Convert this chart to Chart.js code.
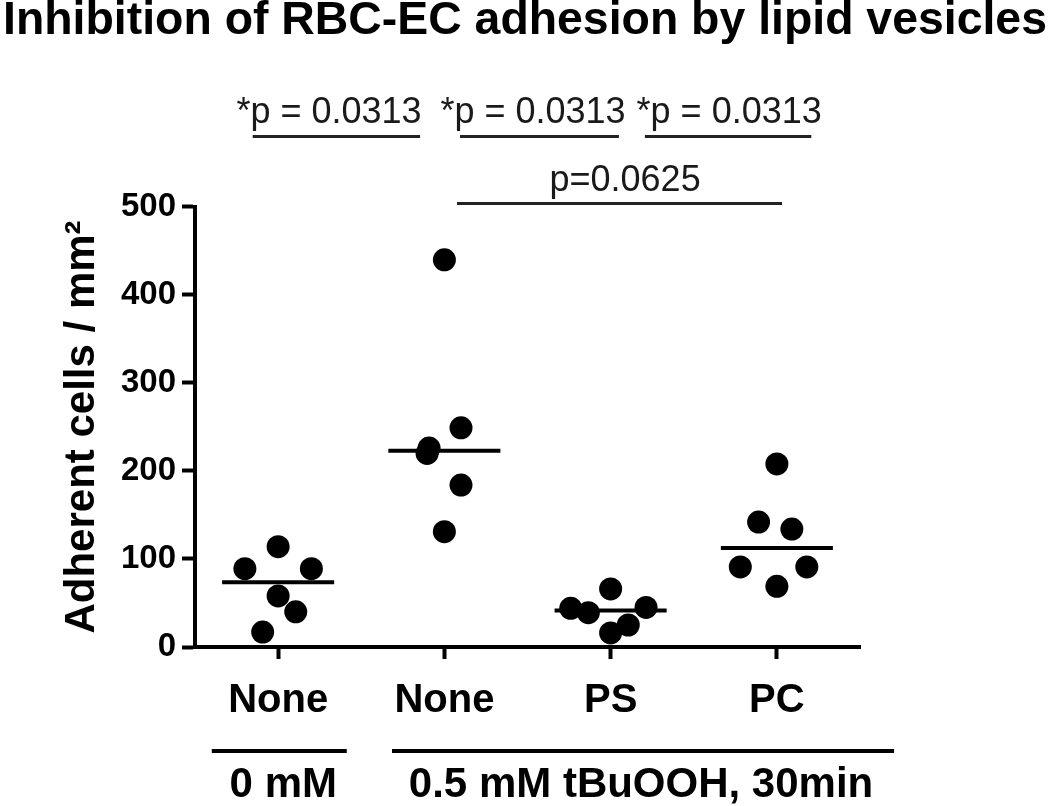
<!DOCTYPE html>
<html>
<head>
<meta charset="utf-8">
<script src="https://cdn.jsdelivr.net/npm/chart.js@4.4.0/dist/chart.umd.min.js"></script>
<style>
  html, body { margin: 0; padding: 0; background: #fff; }
</style>
</head>
<body>
<canvas id="adhesion" width="1050" height="806"></canvas>
<script>
// x categories (one column per condition)
const groups = ['None', 'None', 'PS', 'PC'];
// adherent cells / mm2, one value per experiment
const untreated = [89, 114, 89, 58, 40, 17];
const tbuooh = [440, 249, 226, 220, 184, 131];
const tbuoohPS = [66, 44, 39, 45, 16, 25];
const tbuoohPC = [208, 142, 134, 91, 91, 69];
// sideways scatter of the dots inside a column, in column widths
const spread0 = [-0.2, 0, 0.2, 0, 0.106, -0.093];
const spread1 = [0, 0.1, -0.092, -0.104, 0.1, 0];
const spread2 = [0, -0.24, -0.134, 0.213, 0, 0.106];
const spread3 = [0, -0.11, 0.09, -0.22, 0.18, 0];
const yTicks = [0, 100, 200, 300, 400, 500];

// significance bars above the plot
const sigLabels = ['*p = 0.0313', '*p = 0.0313', '*p = 0.0313', 'p=0.0625'];
const sigFrom = [-0.153, 1.094, 2.206, 1.076];
const sigTo = [0.854, 2.05, 3.207, 3.031];
const sigLevel = [580, 580, 580, 504];
const sigTextX = [0.306, 1.533, 2.713, 2.087];

// treatment brackets under the x axis
const treatLabels = ['0 mM', '0.5 mM tBuOOH, 30min'];
const treatFrom = [-0.399, 0.685];
const treatTo = [0.413, 3.705];
const treatTextX = [0.031, 2.183];

const family = '"Liberation Sans", Arial, Helvetica, sans-serif';
Chart.defaults.font.family = family;
Chart.defaults.color = '#000';

const median = arr => {
  const s = [...arr].sort((a, b) => a - b);
  const m = s.length / 2;
  return s.length % 2 ? s[Math.floor(m)] : (s[m - 1] + s[m]) / 2;
};

const seriesList = [untreated, tbuooh, tbuoohPS, tbuoohPC];
const spreads = [spread0, spread1, spread2, spread3];
const datasets = [];
seriesList.forEach((vals, i) => {
  datasets.push({
    type: 'scatter',
    data: vals.map((v, k) => ({ x: i + spreads[i][k], y: v })),
    backgroundColor: '#000',
    borderWidth: 0,
    pointRadius: 11.5,
    pointHoverRadius: 11.5
  });
  const m = median(vals);
  datasets.push({
    type: 'line',
    data: [{ x: i - 0.337, y: m }, { x: i + 0.337, y: m }],
    borderColor: '#000',
    borderWidth: 4,
    pointRadius: 0,
    fill: false
  });
});

const annotations = {
  id: 'annotations',
  afterDraw(chart) {
    const { ctx, scales: { x, y } } = chart;
    ctx.save();
    ctx.textAlign = 'center';
    ctx.textBaseline = 'alphabetic';

    // p value bars
    ctx.strokeStyle = '#222';
    ctx.fillStyle = '#1a1a1a';
    ctx.lineWidth = 3;
    ctx.font = '36px ' + family;
    sigLabels.forEach((lab, i) => {
      const py = y.getPixelForValue(sigLevel[i]);
      ctx.beginPath();
      ctx.moveTo(x.getPixelForValue(sigFrom[i]), py);
      ctx.lineTo(x.getPixelForValue(sigTo[i]), py);
      ctx.stroke();
      ctx.fillText(lab, x.getPixelForValue(sigTextX[i]), py - (i < 3 ? 14 : 12));
    });

    // treatment brackets
    ctx.strokeStyle = '#000';
    ctx.fillStyle = '#000';
    ctx.lineWidth = 4;
    ctx.font = 'bold 42px ' + family;
    const lineY = chart.chartArea.bottom + 104;
    treatLabels.forEach((lab, i) => {
      ctx.beginPath();
      ctx.moveTo(x.getPixelForValue(treatFrom[i]), lineY);
      ctx.lineTo(x.getPixelForValue(treatTo[i]), lineY);
      ctx.stroke();
      ctx.fillText(lab, x.getPixelForValue(treatTextX[i]), lineY + 46);
    });
    ctx.restore();
  }
};

new Chart(document.getElementById('adhesion'), {
  type: 'scatter',
  data: { datasets },
  plugins: [annotations],
  options: {
    responsive: false,
    animation: false,
    events: [],
    layout: { padding: 0 },
    plugins: {
      legend: { display: false },
      tooltip: { enabled: false },
      title: {
        display: true,
        text: 'Inhibition of RBC-EC adhesion by lipid vesicles',
        color: '#000',
        font: { size: 46.4, weight: 'bold', lineHeight: 0.92 },
        padding: { top: 0, bottom: 164.3 }
      }
    },
    scales: {
      x: {
        type: 'linear',
        min: -0.5,
        max: 3.5,
        afterBuildTicks: s => { s.ticks = groups.map((g, i) => ({ value: i })); },
        afterFit: s => { s.height = 159; },
        ticks: {
          callback: v => groups[v],
          color: '#000',
          font: { size: 40, weight: 'bold' },
          padding: 18,
          autoSkip: false,
          maxRotation: 0
        },
        grid: { drawOnChartArea: false, tickLength: 12, tickWidth: 4, tickColor: '#000' },
        border: { color: '#000', width: 4 }
      },
      y: {
        min: 0,
        max: 500,
        afterBuildTicks: s => { s.ticks = yTicks.map(v => ({ value: v })); },
        afterFit: s => { s.width = 195; },
        ticks: {
          color: '#000',
          font: { size: 33, weight: 'bold' },
          padding: 6
        },
        grid: { drawOnChartArea: false, tickLength: 13, tickWidth: 4, tickColor: '#000' },
        border: { color: '#000', width: 4 },
        title: {
          display: true,
          text: 'Adherent cells / mm²',
          color: '#000',
          font: { size: 42, weight: 'bold' },
          padding: { top: 57, bottom: 0 }
        }
      },
      spare: {
        position: 'right',
        afterFit: s => { s.width = 190; },
        ticks: { display: false },
        grid: { display: false },
        border: { display: false }
      }
    }
  }
});
</script>
</body>
</html>
